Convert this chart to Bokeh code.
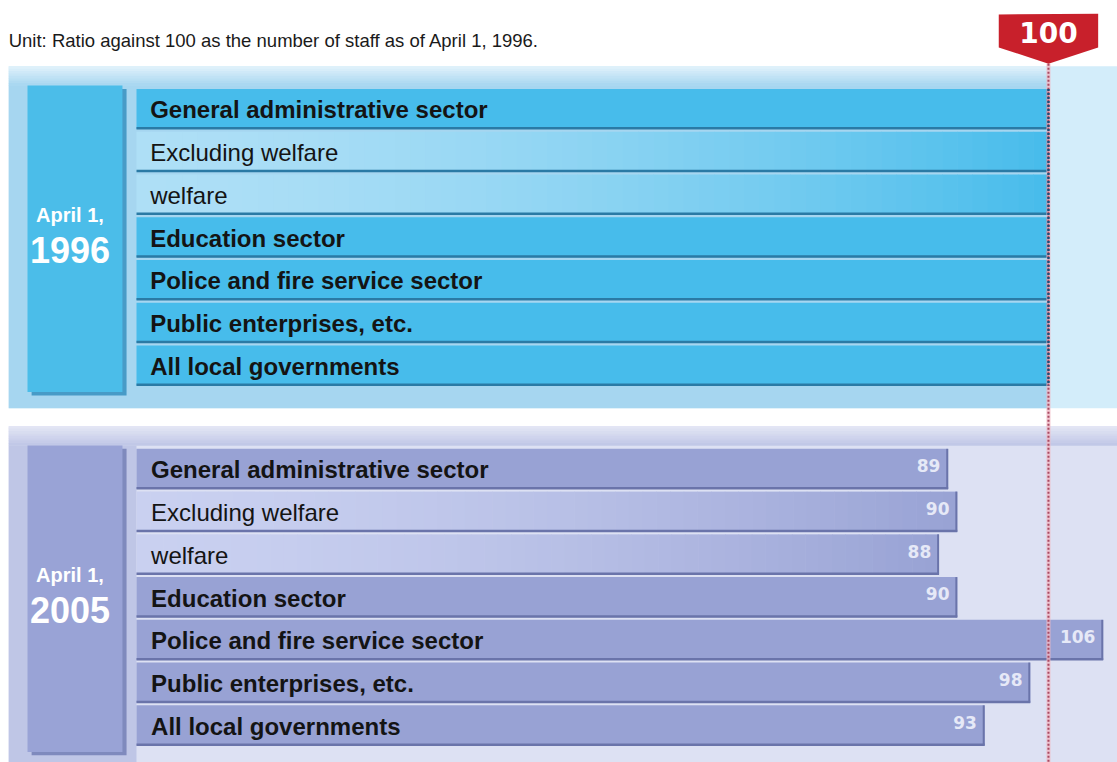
import numpy as np
from bokeh.plotting import figure
from bokeh.models import Range1d, ColumnDataSource
from bokeh.core.properties import value
from bokeh.embed import file_html
from bokeh.resources import INLINE

# ---------------- data ----------------
categories = ["General administrative sector", "Excluding welfare", "welfare",
              "Education sector", "Police and fire service sector",
              "Public enterprises, etc.", "All local governments"]
bold_rows = [True, False, False, True, True, True, True]
gradient_rows = [False, True, True, False, False, False, False]
values_1996 = [100, 100, 100, 100, 100, 100, 100]
values_2005 = [89, 90, 88, 90, 106, 98, 93]
group_dates = ["April 1,", "April 1,"]
group_years = ["1996", "2005"]
unit_note = "Unit: Ratio against 100 as the number of staff as of April 1, 1996."
base_value = 100
base_label = "100"

# ---------------- layout helpers ----------------
X0, X1 = -14.912, 107.57
Y_TOP, Y_BOT = -2.538, 15.287
GROUP_OFFSET = [0.0, 8.42]
HALF = 0.47

def hex2rgb(h):
    h = h.lstrip("#")
    return tuple(int(h[i:i + 2], 16) for i in (0, 2, 4))

def mix(c1, c2, t):
    a, b = hex2rgb(c1), hex2rgb(c2)
    return "#%02x%02x%02x" % tuple(int(round(a[i] + (b[i] - a[i]) * t)) for i in range(3))

p = figure(width=1117, height=762, x_range=Range1d(X0, X1), y_range=Range1d(Y_BOT, Y_TOP),
           output_backend="svg", toolbar_location=None, min_border=0)
p.axis.visible = False
p.grid.visible = False
p.outline_line_color = None
p.background_fill_color = "white"
p.border_fill_color = "white"

themes = [
    dict(base="#d3edfa", left="#a6d6f0", band_top="#e2f2fb", box="#4bbde9", box_shadow="#2f8cbd",
         bar="#47bceb", light="#aedff6", edge="#2a7aa5"),
    dict(base="#dde1f3", left="#bfc6e6", band_top="#e4e7f5", box="#99a3d6", box_shadow="#6f7ab3",
         bar="#98a2d4", light="#c9d0f0", edge="#6a74aa"),
]

for g, vals in enumerate([values_1996, values_2005]):
    off = GROUP_OFFSET[g]
    th = themes[g]
    top = off - 1.0
    bot = off + 7.0 if g == 0 else Y_BOT + 0.5
    # panel background
    p.quad(left=X0 + 0.9, right=X1, top=top, bottom=bot, fill_color=th["base"], line_color=None)
    if g == 0:
        p.quad(left=X0 + 0.9, right=base_value, top=off - 0.55, bottom=bot, fill_color=th["left"], line_color=None)
    else:
        p.quad(left=X0 + 0.9, right=0, top=off - 0.55, bottom=bot, fill_color=th["left"], line_color=None)
    # top band gradient
    nb = 8
    for k in range(nb):
        t0 = top + (0.45 * k / nb)
        t1 = top + (0.45 * (k + 1) / nb) + 0.01
        col = mix(th["band_top"], th["left"], (k + 0.5) / nb)
        p.quad(left=X0 + 0.9, right=base_value if g == 0 else X1, top=t0, bottom=t1, fill_color=col, line_color=None)
    # left label box with shadow
    p.quad(left=-11.95 + 0.45, right=-1.54 + 0.45, top=off - 0.55 + 0.08, bottom=off + 6.62 + 0.08,
           fill_color=th["box_shadow"], line_color=None, fill_alpha=0.8)
    p.quad(left=-11.95, right=-1.54, top=off - 0.55, bottom=off + 6.62,
           fill_color=th["box"], line_color=None)
    p.text(x=[-7.3], y=[off + 2.47], text=[group_dates[g]], text_align="center", text_baseline="middle",
           text_font=value("Liberation Sans"), text_font_size=value("20px"), text_font_style=value("bold"),
           text_color="white")
    p.text(x=[-7.3], y=[off + 3.3], text=[group_years[g]], text_align="center", text_baseline="middle",
           text_font=value("Liberation Sans"), text_font_size=value("36px"), text_font_style=value("bold"),
           text_color="white")

    # bars
    for i, v in enumerate(vals):
        yc = off + i
        if gradient_rows[i]:
            n = 60
            edges = np.linspace(0, v, n + 1)
            lefts = edges[:-1]
            rights = edges[1:] + 0.06
            rights[-1] = v
            cols = [mix(th["light"], th["bar"], min(1.0, ((l + r) / 2 / v)) ** 1.6) for l, r in zip(lefts, rights)]
            src = ColumnDataSource(dict(left=lefts, right=rights, col=cols))
            p.quad(left="left", right="right", top=yc - HALF, bottom=yc + HALF, fill_color="col",
                   line_color=None, source=src)
        else:
            p.quad(left=[0], right=[v], top=[yc - HALF], bottom=[yc + HALF], fill_color=th["bar"], line_color=None)
        # edges (bottom and right)
        p.segment(x0=[0], y0=[yc + HALF - 0.02], x1=[v], y1=[yc + HALF - 0.02], line_color=th["edge"], line_width=2.5)
        p.segment(x0=[v - 0.1], y0=[yc - HALF], x1=[v - 0.1], y1=[yc + HALF], line_color=th["edge"], line_width=2)

    # category labels
    for i, name in enumerate(categories):
        p.text(x=[1.5 if g == 0 else 1.6], y=[off + i + 0.02], text=[name], text_align="left", text_baseline="middle",
               text_font=value("Liberation Sans"), text_font_size=value("24px"),
               text_font_style=value("bold" if bold_rows[i] else "normal"), text_color="#141414")

    # value labels (only for 2005)
    if g == 1:
        p.text(x=[v - 0.85 for v in vals], y=[off + i - 0.08 for i in range(len(vals))],
               text=[str(v) for v in vals], text_align="right", text_baseline="middle",
               text_font=value("DejaVu Sans"), text_font_size=value("17px"), text_font_style=value("bold"),
               text_color="#e6e9f7")

# reference line at 100
p.segment(x0=[base_value], y0=[-1.06], x1=[base_value], y1=[Y_BOT], line_color="#f0b8c4", line_width=4, line_alpha=0.8)
p.segment(x0=[base_value], y0=[-1.06], x1=[base_value], y1=[Y_BOT], line_color="#a84a62", line_width=2, line_dash="2 2")
p.segment(x0=[base_value], y0=[-HALF], x1=[base_value], y1=[6 + HALF], line_color="#1f4d78", line_width=2.5, line_dash="2 2")

# red marker
mx = [base_value - 5.45, base_value + 5.45, base_value + 5.45, base_value, base_value - 5.45]
my = [-2.21, -2.23, -1.44, -1.06, -1.44]
p.patch(x=mx, y=my, fill_color="#c8202b", line_color=None)
p.text(x=[base_value], y=[-1.80], text=[base_label], text_align="center", text_baseline="middle",
       text_font=value("DejaVu Sans"), text_font_size=value("28px"), text_font_style=value("bold"),
       text_color="white")

# unit note
p.text(x=[X0 + 0.9], y=[-1.60], text=[unit_note], text_align="left", text_baseline="middle",
       text_font=value("Liberation Sans"), text_font_size=value("18.5px"), text_color="#1a1a1a")

open("out.html", "w").write(file_html(p, INLINE))
